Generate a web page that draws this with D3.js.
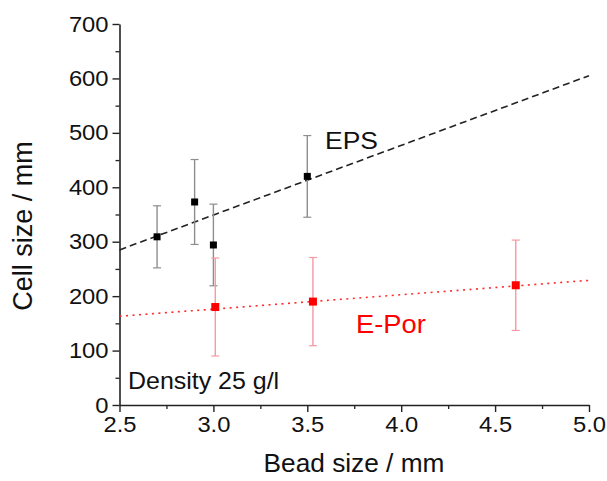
<!DOCTYPE html>
<html>
<head>
<meta charset="utf-8">
<script src="https://cdn.jsdelivr.net/npm/d3@7/dist/d3.min.js"></script>
<style>
  html, body { margin: 0; padding: 0; background: #ffffff; }
  svg { display: block; font-family: "Liberation Sans", Arial, sans-serif; }
</style>
</head>
<body>
<svg id="chart" width="607" height="481"></svg>
<script>
// EPS beads (black): bead size, mean cell size, standard deviation
const epsBead = [2.7, 2.9, 3.0, 3.5];
const epsCell = [309, 373, 294, 420];
const epsErr  = [57, 78, 75, 75];

// E-Por beads (red)
const eporBead = [3.01, 3.53, 4.61];
const eporCell = [180, 190, 220];
const eporErr  = [90, 81, 83];

// Linear trend lines: values at bead size 2.5 and 5.0
const fitX    = [2.5, 5.0];
const epsFit  = [285, 605];
const eporFit = [163, 229];

// Axis ticks
const xTicks = [2.5, 3.0, 3.5, 4.0, 4.5, 5.0];
const xMinor = [2.75, 3.25, 3.75, 4.25, 4.75];
const yTicks = [0, 100, 200, 300, 400, 500, 600, 700];
const yMinor = [50, 150, 250, 350, 450, 550, 650];

const svg = d3.select("#chart");
const x = d3.scaleLinear().domain([2.5, 5.0]).range([119.5, 589]);
const y = d3.scaleLinear().domain([0, 700]).range([405, 24]);

const SX = 1.08; // horizontal stretch of lettering

function stretchText(sel, k) {
  sel.each(function () {
    const t = d3.select(this);
    const xa = +t.attr("x") || 0;
    t.attr("x", 0).attr("transform", `translate(${xa},0) scale(${k},1)`);
  });
}

// Minor ticks
svg.append("g")
  .attr("transform", `translate(0,${y(0)})`)
  .call(d3.axisBottom(x).tickValues(xMinor).tickSize(4).tickFormat(""))
  .call(g => g.select(".domain").remove())
  .call(g => g.selectAll("line").attr("stroke", "#222").attr("stroke-width", 1.3));
svg.append("g")
  .attr("transform", `translate(${x(2.5)},0)`)
  .call(d3.axisLeft(y).tickValues(yMinor).tickSize(4).tickFormat(""))
  .call(g => g.select(".domain").remove())
  .call(g => g.selectAll("line").attr("stroke", "#222").attr("stroke-width", 1.3));

// Major axes
const xAxis = svg.append("g")
  .attr("transform", `translate(0,${y(0)})`)
  .call(d3.axisBottom(x).tickValues(xTicks).tickSize(7).tickSizeOuter(0).tickPadding(4)
        .tickFormat(d3.format(".1f")));
const yAxis = svg.append("g")
  .attr("transform", `translate(${x(2.5)},0)`)
  .call(d3.axisLeft(y).tickValues(yTicks).tickSize(7).tickSizeOuter(0).tickPadding(4)
        .tickFormat(d3.format("d")));

[xAxis, yAxis].forEach(ax => {
  ax.select(".domain").attr("stroke", "#222").attr("stroke-width", 1.6);
  ax.selectAll(".tick line").attr("stroke", "#222").attr("stroke-width", 1.4);
  ax.selectAll(".tick text")
    .attr("fill", "#111")
    .style("font-family", "'Liberation Sans', Arial, sans-serif")
    .style("font-size", "22px");
});
stretchText(xAxis.selectAll(".tick text"), SX);
stretchText(yAxis.selectAll(".tick text"), SX);

// Axis titles
const xTitle = svg.append("text")
  .attr("x", 354).attr("y", 472)
  .attr("text-anchor", "middle")
  .attr("fill", "#111")
  .style("font-size", "25px")
  .text("Bead size / mm");
stretchText(xTitle, 1.05);

svg.append("text")
  .attr("transform", "translate(32,226) rotate(-90)")
  .attr("text-anchor", "middle")
  .attr("fill", "#111")
  .style("font-size", "27px")
  .text("Cell size / mm");

// Trend lines
const fitLine = d3.line().x(d => x(d[0])).y(d => y(d[1]));
svg.append("path")
  .attr("d", fitLine(d3.zip(fitX, epsFit)))
  .attr("fill", "none")
  .attr("stroke", "#222")
  .attr("stroke-width", 1.6)
  .attr("stroke-dasharray", "7,4");
svg.append("path")
  .attr("d", fitLine(d3.zip(fitX, eporFit)))
  .attr("fill", "none")
  .attr("stroke", "#ff2a2a")
  .attr("stroke-width", 1.6)
  .attr("stroke-dasharray", "2,4.5");

// Error bars and markers
function drawSeries(bx, cy, err, barColor, markColor, size) {
  const data = d3.zip(bx, cy, err);
  const g = svg.append("g");
  g.selectAll("line.bar").data(data).join("line")
    .attr("x1", d => x(d[0])).attr("x2", d => x(d[0]))
    .attr("y1", d => y(d[1] - d[2])).attr("y2", d => y(d[1] + d[2]))
    .attr("stroke", barColor).attr("stroke-width", 1.4);
  [-1, 1].forEach(s => {
    g.selectAll(null).data(data).join("line")
      .attr("x1", d => x(d[0]) - 4).attr("x2", d => x(d[0]) + 4)
      .attr("y1", d => y(d[1] + s * d[2])).attr("y2", d => y(d[1] + s * d[2]))
      .attr("stroke", barColor).attr("stroke-width", 1.2);
  });
  g.selectAll("rect").data(data).join("rect")
    .attr("x", d => x(d[0]) - size / 2).attr("y", d => y(d[1]) - size / 2)
    .attr("width", size).attr("height", size)
    .attr("fill", markColor);
}
drawSeries(epsBead, epsCell, epsErr, "#8e8e8e", "#000000", 7);
drawSeries(eporBead, eporCell, eporErr, "#f39aa2", "#ff0000", 8);

// Labels
const lab1 = svg.append("text").attr("x", 325).attr("y", 149)
  .attr("fill", "#111").style("font-size", "23px").text("EPS");
stretchText(lab1, 1.15);
const lab2 = svg.append("text").attr("x", 356).attr("y", 333)
  .attr("fill", "#ff0000").style("font-size", "26px").text("E-Por");
stretchText(lab2, 1.05);
const lab3 = svg.append("text").attr("x", 128).attr("y", 389)
  .attr("fill", "#111").style("font-size", "24px").text("Density 25 g/l");
stretchText(lab3, 1.04);
</script>
</body>
</html>
